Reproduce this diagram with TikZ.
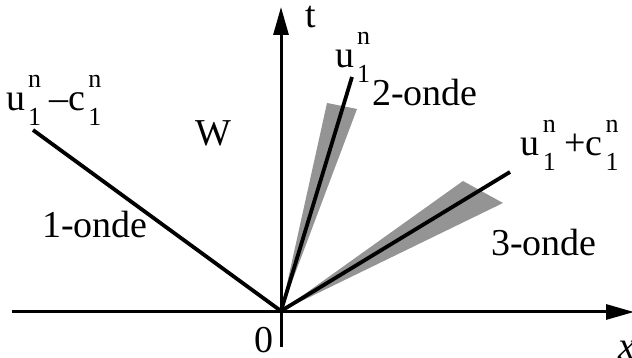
\documentclass[tikz,border=0pt]{standalone}
\usepackage{fontspec}
\setmainfont{Liberation Serif}
\usetikzlibrary{arrows.meta,positioning}
\newcommand{\scr}[1]{\fontsize{13}{13}\selectfont #1}
\newcommand{\vn}[1]{#1\kern0.08em\rlap{\raisebox{0.62em}{\scr{n}}}\raisebox{-0.38em}{\scr{1}}\kern0.12em}

\begin{document}
\begin{tikzpicture}[x=0.5pt,y=0.5pt,font=\fontsize{19}{22}\selectfont,axis/.style={line width=1.5pt,-{Triangle[length=14pt,width=7.5pt]}},ray/.style={line width=1.9pt},fan/.style={fill=black!42,draw=none},lbl/.style={inner sep=0pt}]
\useasboundingbox (0,0) rectangle (632,358);
\coordinate (O) at (281,47);
\coordinate (xl) at (12,46);\coordinate (xr) at (634,46);
\coordinate (tb) at (281,11);\coordinate (tt) at (281,351);
\coordinate (e1) at (33,228);\coordinate (e2) at (352,281);\coordinate (e3) at (510,186);
\fill[fan] (O)--(327,255)--(357,249)--cycle;
\fill[fan] (O)--(463,177)--(503,155)--cycle;
\draw[axis] (xl)--(xr);
\draw[axis] (tb)--(tt);
\draw[ray] (O)--(e1);\draw[ray] (O)--(e2);\draw[ray] (O)--(e3);
\node[lbl] (t) at (311,341) {t};
\node[lbl] (x) at (627,8) {\itshape x};
\node[lbl] (zero) at (264,18) {0};
\node[lbl] (w) at (213,225) {W};
\node[lbl] (k1) at (56,258) {\vn{u}\kern0.1em–\vn{c}};
\node[lbl] (k2) at (355,301) {\vn{u}};
\node[lbl] (k3) at (572,213) {\vn{u}\kern0.1em+\vn{c}};
\node[lbl] (o1) at (95,133) {1-onde};
\node[lbl] (o2) at (425,265) {2-onde};
\node[lbl] (o3) at (544,115) {3-onde};
\end{tikzpicture}
\end{document}
